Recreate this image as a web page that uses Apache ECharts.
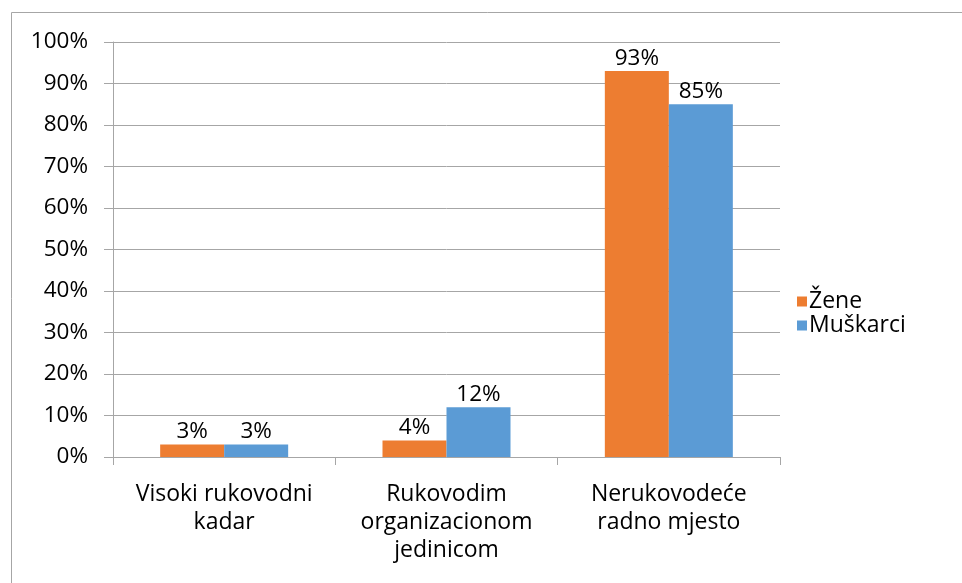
<!DOCTYPE html>
<html>
<head>
<meta charset="utf-8">
<script src="https://cdn.jsdelivr.net/npm/echarts@6/dist/echarts.min.js"></script>
<style>
  html, body { margin: 0; padding: 0; background: #fff; }
  #chart { width: 962px; height: 583px; }
</style>
</head>
<body>
<div id="chart"></div>
<script>
const categories = ['Visoki rukovodni\nkadar', 'Rukovodim\norganizacionom\njedinicom', 'Nerukovodeće\nradno mjesto']
const zene = [3, 4, 93]
const muskarci = [3, 12, 85]
const yTicks = [0, 10, 20, 30, 40, 50, 60, 70, 80, 90, 100]

const font = '"Open Sans", Lato, sans-serif'
const fsText = 23
const fsNum = 22.5
const chart = echarts.init(document.getElementById('chart'))

chart.setOption({
  animation: false,
  textStyle: { fontFamily: font },
  graphic: [{
    type: 'rect',
    shape: { x: 11.5, y: 12.5, width: 1000, height: 1000 },
    style: { fill: 'none', stroke: '#A6A6A6', lineWidth: 1 }
  }],
  legend: {
    orient: 'vertical',
    left: 792,
    top: 285,
    itemWidth: 10,
    itemHeight: 10,
    itemGap: 1,
    icon: 'rect',
    textStyle: { fontSize: fsText, color: '#000', fontFamily: font, padding: [0, 0, 0, -3] },
    data: ['Žene', 'Muškarci']
  },
  grid: { left: 113, right: 182, top: 42, bottom: 126 },
  xAxis: {
    type: 'category',
    data: categories,
    axisLine: { lineStyle: { color: '#A6A6A6', width: 1 } },
    axisTick: { show: true, length: 8, lineStyle: { color: '#A6A6A6' } },
    axisLabel: {
      interval: 0, hideOverlap: false,
      fontSize: fsText, color: '#000', lineHeight: 28, margin: 23, fontFamily: font
    }
  },
  yAxis: {
    type: 'value',
    min: 0,
    max: 100,
    interval: 10,
    axisLine: { show: true, lineStyle: { color: '#A6A6A6', width: 1 } },
    axisTick: { show: true, length: 9, lineStyle: { color: '#A6A6A6' } },
    splitLine: { lineStyle: { color: '#A6A6A6', width: 1 } },
    axisLabel: {
      fontSize: fsNum, color: '#000', margin: 25, fontFamily: font,
      formatter: v => yTicks.includes(v) ? v + '%' : ''
    }
  },
  series: [
    {
      name: 'Žene',
      type: 'bar',
      data: zene,
      barWidth: 64,
      barGap: '0%',
      itemStyle: { color: '#ED7D31' },
      label: { show: true, position: 'top', distance: 1, formatter: '{c}%', fontSize: fsNum, color: '#000', fontFamily: font }
    },
    {
      name: 'Muškarci',
      type: 'bar',
      data: muskarci,
      barWidth: 64,
      barGap: '0%',
      itemStyle: { color: '#5B9BD5' },
      label: { show: true, position: 'top', distance: 1, formatter: '{c}%', fontSize: fsNum, color: '#000', fontFamily: font }
    }
  ]
})
</script>
</body>
</html>
